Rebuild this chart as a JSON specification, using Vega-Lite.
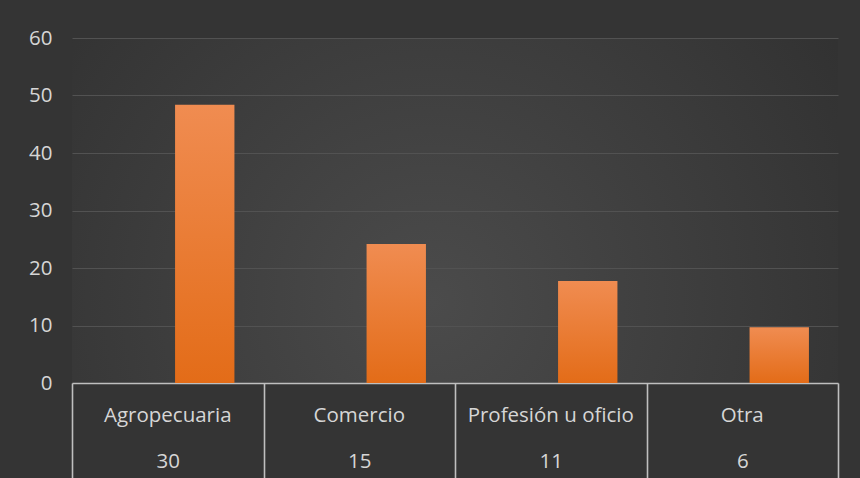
{
  "$schema": "https://vega.github.io/schema/vega-lite/v6.json",
  "width": 766,
  "height": 345,
  "autosize": "none",
  "padding": {"left": 72, "top": 38, "right": 22, "bottom": 95},
  "background": "#343434",
  "config": {
    "font": "Open Sans",
    "view": {
      "stroke": null,
      "fill": {
        "gradient": "radial",
        "x1": 0.47, "y1": 0.62, "r1": 0,
        "x2": 0.47, "y2": 0.62, "r2": 0.8,
        "stops": [
          {"offset": 0, "color": "#4b4b4b"},
          {"offset": 1, "color": "#2b2b2b"}
        ]
      }
    }
  },
  "data": {
    "values": [
      {"categoria": "Agropecuaria", "n": "30", "porcentaje": 48.39},
      {"categoria": "Comercio", "n": "15", "porcentaje": 24.19},
      {"categoria": "Profesión u oficio", "n": "11", "porcentaje": 17.74},
      {"categoria": "Otra", "n": "6", "porcentaje": 9.68}
    ]
  },
  "layer": [
    {
      "mark": {
        "type": "bar",
        "width": {"band": 0.31},
        "xOffset": 37,
        "fill": {
          "gradient": "linear",
          "x1": 0, "y1": 0, "x2": 0, "y2": 1,
          "stops": [
            {"offset": 0, "color": "#f08c51"},
            {"offset": 1, "color": "#e36c18"}
          ]
        }
      },
      "encoding": {
        "x": {
          "field": "categoria",
          "type": "nominal",
          "sort": null,
          "scale": {"paddingInner": 0, "paddingOuter": 0},
          "axis": {
            "orient": "bottom",
            "title": null,
            "labelAngle": 0,
            "ticks": false,
            "domain": true,
            "domainColor": "#bfbfbf",
            "domainWidth": 1.6,
            "labelPadding": 22,
            "labelFontSize": 20.5,
            "labelColor": "#d6d6d6",
            "grid": false
          }
        },
        "y": {
          "field": "porcentaje",
          "type": "quantitative",
          "scale": {"domain": [0, 60]},
          "axis": {
            "title": null,
            "values": [0, 10, 20, 30, 40, 50, 60],
            "domain": false,
            "ticks": false,
            "labelPadding": 20,
            "labelFontSize": 20.5,
            "labelColor": "#d6d6d6",
            "gridColor": "#525252",
            "gridWidth": 1.2
          }
        }
      }
    },
    {
      "mark": {"type": "bar", "opacity": 0},
      "encoding": {
        "x": {
          "field": "n",
          "type": "nominal",
          "sort": null,
          "scale": {"paddingInner": 0, "paddingOuter": 0},
          "axis": {
            "orient": "bottom",
            "title": null,
            "labelAngle": 0,
            "domain": false,
            "ticks": true,
            "tickBand": "extent",
            "tickSize": 95,
            "tickColor": "#bfbfbf",
            "tickWidth": 1.6,
            "labelPadding": -27,
            "labelFontSize": 20.5,
            "labelColor": "#d6d6d6",
            "grid": false
          }
        },
        "y": {"field": "porcentaje", "type": "quantitative"}
      }
    }
  ],
  "resolve": {"scale": {"x": "independent"}}
}
